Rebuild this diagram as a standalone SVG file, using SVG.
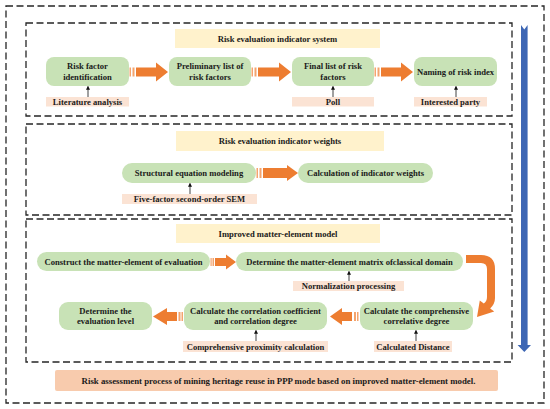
<svg xmlns="http://www.w3.org/2000/svg" width="550" height="409" viewBox="0 0 550 409">
<defs>
<style>
.frame{fill:none;stroke:#262626;stroke-width:1.3;stroke-dasharray:7 3.5}
.node{fill:#c8e2b6}
.title{fill:#fff2cc}
.lab{fill:#fbe3d4}
.cap{fill:#f8cbad}
.t{font-family:"Liberation Serif","Times New Roman",serif;font-weight:bold;font-size:8.6px;fill:#1a1a1a;text-anchor:middle}
.arr{fill:#ed7d31}
.stripe{fill:#f4a46e}
.small{stroke:#111;stroke-width:0.8;fill:none;marker-end:url(#ah)}
</style>
<marker id="ah" viewBox="0 0 6 6" refX="5" refY="3" markerWidth="4" markerHeight="4" orient="auto" markerUnits="userSpaceOnUse">
<path d="M0,0 L6,3 L0,6 Z" fill="#111"/>
</marker>
</defs>
<rect width="550" height="409" fill="#ffffff"/>

<g id="frames">
<rect class="frame" x="6" y="6" width="538" height="397"/>
<rect class="frame" x="26" y="23" width="486" height="93"/>
<rect class="frame" x="26" y="124" width="486" height="91"/>
<rect class="frame" x="26" y="219" width="486" height="143"/>
</g>

<g id="connectors">
<rect class="stripe" x="129.5" y="67.5" width="1.5" height="9"/>
<rect class="stripe" x="132.5" y="67.5" width="2" height="9"/>
<polygon class="arr" points="136,67.5 156,67.5 156,62.5 168,72 156,81.5 156,76.5 136,76.5"/>
<rect class="stripe" x="251.5" y="67.5" width="1.5" height="9"/>
<rect class="stripe" x="254.5" y="67.5" width="2" height="9"/>
<polygon class="arr" points="258,67.5 279,67.5 279,62.5 291,72 279,81.5 279,76.5 258,76.5"/>
<rect class="stripe" x="374.5" y="67.5" width="1.5" height="9"/>
<rect class="stripe" x="377.5" y="67.5" width="2" height="9"/>
<polygon class="arr" points="381,67.5 401,67.5 401,62.5 413,72 401,81.5 401,76.5 381,76.5"/>
<line class="small" x1="88" y1="97" x2="88" y2="86.5"/>
<line class="small" x1="333" y1="97" x2="333" y2="86.5"/>
<line class="small" x1="456" y1="97" x2="456" y2="86.5"/>
<rect class="stripe" x="256.5" y="168" width="1.5" height="10"/>
<rect class="stripe" x="259.5" y="168" width="2" height="10"/>
<polygon class="arr" points="263,168 287,168 287,165 298,173 287,181 287,178 263,178"/>
<line class="small" x1="190" y1="194" x2="190" y2="183.5"/>
<rect class="stripe" x="210.5" y="258" width="1.2" height="8"/>
<rect class="stripe" x="212.5" y="258" width="1.5" height="8"/>
<polygon class="arr" points="215,258 226,258 226,254.5 236,262 226,269.5 226,266 215,266"/>
<path class="arr" d="M466,255 L481,255 Q495,255 495,269 L495,298 Q495,304 490.2,308.4 L494.2,311.4 L477,317 L479.8,300.6 L483.8,303.6 Q487,301 487,297 L487,269 Q487,263 481,263 L466,263 Z"/>
<rect class="stripe" x="357" y="312" width="1.5" height="9"/>
<rect class="stripe" x="354" y="312" width="2" height="9"/>
<polygon class="arr" points="352,312 342,312 342,308 330,316.5 342,325 342,321 352,321"/>
<rect class="stripe" x="181.5" y="312" width="1.5" height="9"/>
<rect class="stripe" x="178.5" y="312" width="2" height="9"/>
<polygon class="arr" points="177,312 167,312 167,308 153,316.5 167,325 167,321 177,321"/>
<line class="small" x1="349" y1="281" x2="349" y2="271.5"/>
<line class="small" x1="256" y1="341" x2="256" y2="330.5"/>
<line class="small" x1="416" y1="341" x2="416" y2="330.5"/>
<polygon fill="#3d66b4" points="521,25 524.3,29.5 527.6,25 527.6,345 531,345 524.3,352 517.6,345 521,345"/>
</g>

<g id="title1"><rect class="title" x="175" y="29" width="205" height="19"/><text class="t" x="277.5" y="41.5">Risk evaluation indicator system</text></g>
<g id="n1"><rect class="node" x="46" y="57" width="83" height="29" rx="8"/><text class="t" x="87.5" y="69">Risk factor</text><text class="t" x="87.5" y="79.5">identification</text></g>
<g id="n2"><rect class="node" x="169" y="57" width="82" height="29" rx="8"/><text class="t" x="210" y="69">Preliminary list of</text><text class="t" x="210" y="79.5">risk factors</text></g>
<g id="n3"><rect class="node" x="292" y="57" width="82" height="29" rx="8"/><text class="t" x="333" y="69">Final list of risk</text><text class="t" x="333" y="79.5">factors</text></g>
<g id="n4"><rect class="node" x="414" y="57" width="83" height="29" rx="8"/><text class="t" x="455.5" y="74.5">Naming of risk index</text></g>
<g id="l1"><rect class="lab" x="46" y="97" width="83" height="9.5"/><text class="t" x="87.5" y="104.8">Literature analysis</text></g>
<g id="l2"><rect class="lab" x="292" y="97" width="82" height="9.5"/><text class="t" x="333" y="104.8">Poll</text></g>
<g id="l3"><rect class="lab" x="414" y="97" width="73" height="9.5"/><text class="t" x="450.5" y="104.8">Interested party</text></g>

<g id="title2"><rect class="title" x="176" y="131" width="208" height="20"/><text class="t" x="280" y="144">Risk evaluation indicator weights</text></g>
<g id="n5"><rect class="node" x="122" y="163" width="134" height="20" rx="10"/><text class="t" x="189" y="176">Structural equation modeling</text></g>
<g id="n6"><rect class="node" x="298" y="163" width="135" height="20" rx="10"/><text class="t" x="365.5" y="176">Calculation of indicator weights</text></g>
<g id="l4"><rect class="lab" x="122" y="194" width="135" height="10"/><text class="t" x="189.5" y="202">Five-factor second-order SEM</text></g>

<g id="title3"><rect class="title" x="176" y="224" width="204" height="19"/><text class="t" x="278" y="236.5">Improved matter-element model</text></g>
<g id="n7"><rect class="node" x="37" y="252" width="173" height="19" rx="9.5"/><text class="t" x="123.5" y="264.5">Construct the matter-element of evaluation</text></g>
<g id="n8"><rect class="node" x="236" y="252" width="227" height="19" rx="9.5"/><text class="t" x="349.5" y="264.5">Determine the matter-element matrix ofclassical domain</text></g>
<g id="l5"><rect class="lab" x="293" y="281" width="111" height="10"/><text class="t" x="348.5" y="289">Normalization processing</text></g>
<g id="n9"><rect class="node" x="360" y="302" width="113" height="28" rx="9"/><text class="t" x="416.5" y="313.5">Calculate the comprehensive</text><text class="t" x="416.5" y="324">correlative degree</text></g>
<g id="n10"><rect class="node" x="184" y="302" width="143" height="28" rx="9"/><text class="t" x="255.5" y="313.5">Calculate the correlation coefficient</text><text class="t" x="255.5" y="324">and correlation degree</text></g>
<g id="n11"><rect class="node" x="59" y="302" width="93" height="28" rx="9"/><text class="t" x="105.5" y="313.5">Determine the</text><text class="t" x="105.5" y="324">evaluation level</text></g>
<g id="l6"><rect class="lab" x="183" y="341" width="145" height="11"/><text class="t" x="255.5" y="349.5">Comprehensive proximity calculation</text></g>
<g id="l7"><rect class="lab" x="374" y="341" width="78" height="11"/><text class="t" x="413" y="349.5">Calculated Distance</text></g>

<g id="caption"><rect class="cap" x="55" y="370" width="443" height="21" rx="2"/><text class="t" x="278.5" y="383.5" style="font-size:8.8px">Risk assessment process of mining heritage reuse in PPP mode based on improved matter-element model.</text></g>
</svg>
